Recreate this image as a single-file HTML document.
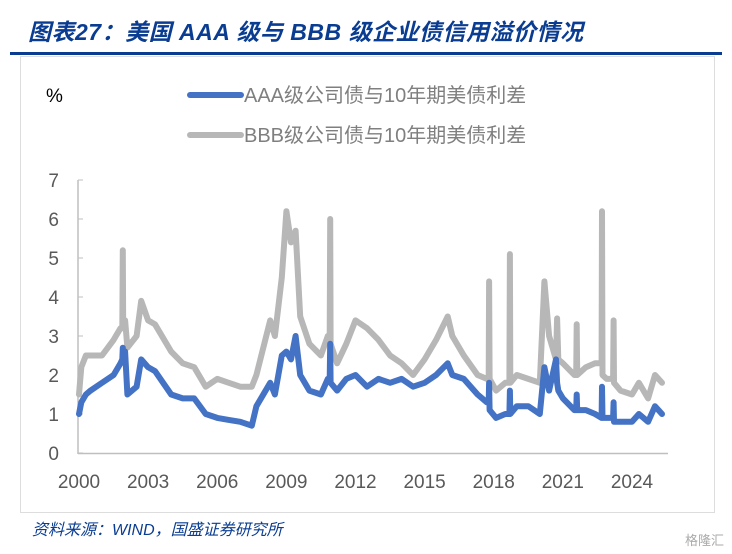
<!DOCTYPE html>
<html><head><meta charset="utf-8"><style>
body{margin:0;background:#fff;width:732px;height:554px;overflow:hidden;position:relative;font-family:"Liberation Sans","Noto Sans CJK SC",sans-serif}
#title{position:absolute;left:28px;top:13px;font-size:23px;letter-spacing:0.5px;font-weight:bold;font-style:italic;color:#0A3D91;white-space:nowrap}
#rule{position:absolute;left:10px;top:52px;width:712px;height:3px;background:#0A3D91}
#frame{position:absolute;left:20px;top:56px;width:695px;height:457px;border:1px solid #ddd;box-sizing:border-box}
#src{position:absolute;left:32px;top:516px;font-size:16px;font-style:italic;color:#0A3D91}
#wm{position:absolute;right:8px;top:530px;font-size:13px;color:#aaa}
svg{position:absolute;left:0;top:0}
</style></head><body>
<div id="title">图表27：美国 AAA 级与 BBB 级企业债信用溢价情况</div>
<div id="rule"></div>
<div id="frame"></div>
<div id="src">资料来源：WIND，国盛证券研究所</div>
<div id="wm">格隆汇</div>
<svg id="chart" width="732" height="554"></svg>
<script>
const xTicks=[2000,2003,2006,2009,2012,2015,2018,2021,2024];
const yTicks=[0,1,2,3,4,5,6,7];
const dates=[2000,2000.1,2000.3,2000.5,2001,2001.5,2001.8,2001.88,2001.9,2001.92,2002.0,2002.1,2002.5,2002.7,2003.0,2003.3,2004,2004.5,2005,2005.5,2006,2006.5,2007,2007.5,2007.7,2008.3,2008.5,2008.8,2009.0,2009.2,2009.4,2009.6,2010,2010.5,2010.8,2010.88,2010.9,2010.92,2011.2,2011.6,2012,2012.5,2013,2013.5,2014,2014.5,2015,2015.5,2016.0,2016.2,2016.7,2017.3,2017.7,2017.78,2017.8,2017.82,2018.1,2018.5,2018.68,2018.7,2018.72,2019,2019.5,2020.0,2020.2,2020.4,2020.7,2020.75,2020.8,2021,2021.5,2021.58,2021.6,2021.62,2022,2022.4,2022.68,2022.7,2022.72,2022.9,2023.18,2023.2,2023.22,2023.5,2024,2024.3,2024.7,2025.0,2025.3];
const aaa=[1.0,1.3,1.5,1.6,1.8,2.0,2.3,2.4,2.7,2.4,2.6,1.5,1.7,2.4,2.2,2.1,1.5,1.4,1.4,1.0,0.9,0.85,0.8,0.7,1.2,1.8,1.5,2.5,2.6,2.4,3.0,2.0,1.6,1.5,1.9,1.9,2.8,1.8,1.6,1.9,2.0,1.7,1.9,1.8,1.9,1.7,1.8,2.0,2.3,2.0,1.9,1.5,1.3,1.3,1.8,1.1,0.9,1.0,1.0,1.6,1.0,1.2,1.2,1.0,2.2,1.6,2.4,1.8,1.6,1.4,1.1,1.1,1.5,1.1,1.1,1.0,0.9,1.7,0.9,0.9,0.9,1.3,0.8,0.8,0.8,1.0,0.8,1.2,1.0];
const bbb=[1.5,2.2,2.5,2.5,2.5,2.9,3.2,3.2,5.2,3.2,3.4,2.7,3.0,3.9,3.4,3.3,2.6,2.3,2.2,1.7,1.9,1.8,1.7,1.7,2.0,3.4,3.0,4.5,6.2,5.4,5.7,3.5,2.8,2.5,3.0,3.0,6.0,2.8,2.3,2.8,3.4,3.2,2.9,2.5,2.3,2.0,2.4,2.9,3.5,3.0,2.5,2.0,1.9,1.9,4.4,1.9,1.6,1.8,1.8,5.1,1.8,2.0,1.9,1.8,4.4,3.0,2.4,3.45,2.4,2.3,2.0,2.0,3.3,2.0,2.2,2.3,2.3,6.2,2.0,1.9,1.9,3.4,1.8,1.6,1.5,1.8,1.4,2.0,1.8];
const NS='http://www.w3.org/2000/svg';
const svg=document.getElementById('chart');
const X=v=>79+(v-2000)*(632-79)/24;
const Y=v=>453-v*39;
function mk(t,a){const e=document.createElementNS(NS,t);for(const k in a)e.setAttribute(k,a[k]);svg.appendChild(e);return e;}
let ax=mk('line',{x1:78,y1:180,x2:78,y2:454,stroke:'#bfbfbf','stroke-width':1.5});


let bx=mk('line',{x1:78,y1:453.5,x2:668,y2:453.5,stroke:'#bfbfbf','stroke-width':1.5});


yTicks.forEach(v=>{
  let tk=mk('line',{x1:78,x2:83,y1:Y(v),y2:Y(v),stroke:'#bfbfbf'});
  
  
  let t=mk('text',{x:59,y:Y(v)+7,'text-anchor':'end','font-size':19,fill:'#595959'});
  t.textContent=v;
  
  
});
xTicks.forEach(v=>{
  let t=mk('text',{x:X(v),y:488,'text-anchor':'middle','font-size':19,fill:'#595959'});
  t.textContent=v;
  
  
});
function line(vals,col,name){
  const d=dates.map((x,i)=>(i?'L':'M')+X(x).toFixed(1)+','+Y(vals[i]).toFixed(1)).join('');
  let p=mk('path',{d:d,fill:'none',stroke:col,'stroke-width':6,'stroke-linejoin':'round','stroke-linecap':'round'});
  
  
}
line(bbb,'#b7b7b7','bbb-spread-line');
line(aaa,'#4472c4','aaa-spread-line');
let pc=mk('text',{x:46,y:102,'font-size':19,fill:'#000'});pc.textContent='%';


[['#4472c4','AAA级公司债与10年期美债利差',95,'legend-entry-aaa'],['#b7b7b7','BBB级公司债与10年期美债利差',135,'legend-entry-bbb']].forEach(l=>{
  let g=mk('line',{x1:190,x2:241,y1:l[2],y2:l[2],stroke:l[0],'stroke-width':6,'stroke-linecap':'round'});
  
  
  let t=mk('text',{x:244,y:l[2]+7,'font-size':20,fill:'#7f7f7f'});t.textContent=l[1];
  
  
});
</script>
</body></html>
